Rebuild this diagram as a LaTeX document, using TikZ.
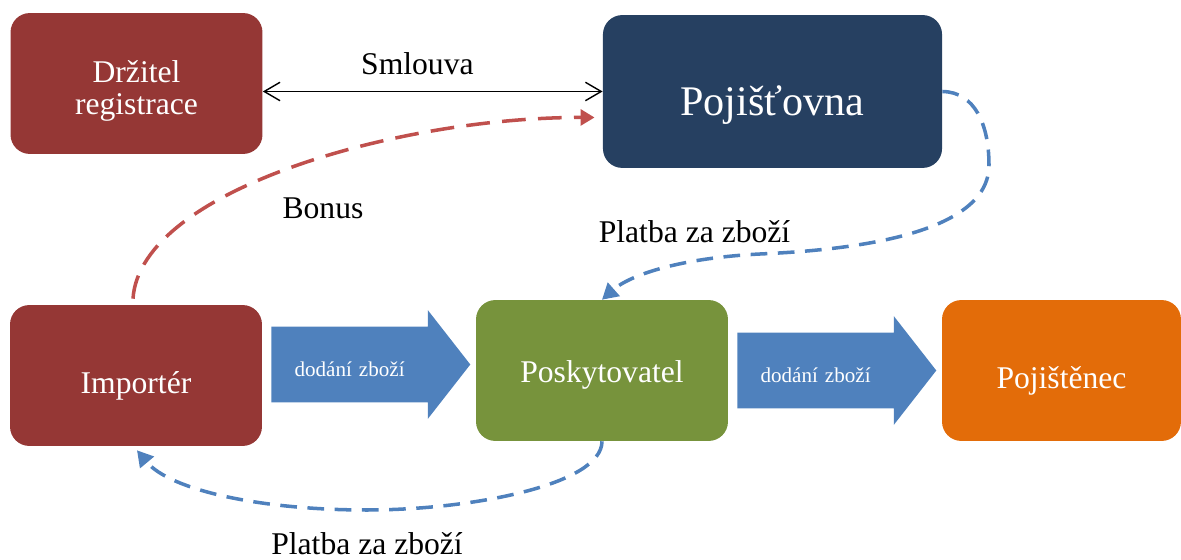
\documentclass[tikz,border=0pt]{standalone}
\usepackage{fontspec}
\setmainfont{Liberation Serif}
\usepackage{tikz}
\usetikzlibrary{arrows.meta,shapes.arrows,positioning,calc}
\definecolor{vinered}{HTML}{953735}
\definecolor{navyblue}{HTML}{264061}
\definecolor{olivegreen}{HTML}{77933C}
\definecolor{deeporange}{HTML}{E36C09}
\definecolor{flowblue}{HTML}{4F81BD}
\definecolor{bonusred}{HTML}{C0504D}
\tikzstyle{party} = [rectangle, rounded corners=11pt, text=white, align=center,
    minimum width=143.4pt, minimum height=80.2pt, inner sep=0pt,
    font=\fontsize{18}{18.2}\selectfont]
\tikzstyle{goods} = [single arrow, fill=flowblue, text=white, anchor=tail,
    font=\fontsize{12}{14}\selectfont, text width=70pt, align=left,
    text height=14.2pt, text depth=0pt,
    inner xsep=13pt, inner ysep=14.25pt, single arrow head extend=9.4pt,
    single arrow tip angle=104, minimum height=112.7pt]
\tikzstyle{payment} = [draw=flowblue, line width=2pt,
    dash pattern=on 9.5pt off 6pt, -{Triangle[length=9pt,width=10pt]}]
\tikzstyle{bonus} = [draw=bonusred, line width=2pt,
    dash pattern=on 13.5pt off 7pt, -{Triangle[length=8pt,width=9pt]}]
\tikzstyle{flowtext} = [font=\fontsize{18}{20}\selectfont, anchor=base]

\begin{document}
\begin{tikzpicture}[x=0.02cm, y=-0.02cm]
  \useasboundingbox (0,0) rectangle (1181,560);
  % Place nodes
  \node [party, fill=vinered, text height=35.8pt, text depth=0pt] (drzitel)
    at (136.5,83.5) {Držitel\\registrace};
  \node [party, fill=navyblue, minimum width=193pt, minimum height=87pt,
    font=\fontsize{24}{28}\selectfont, text height=27pt, text depth=0pt]
    (pojistovna) at (772.5,91.5) {Pojišťovna};
  \node [party, fill=vinered, text height=20pt, text depth=0pt] (importer)
    at (136,375.5) {Importér};
  \node [party, fill=olivegreen, text height=14pt, text depth=0pt] (poskytovatel)
    at (602,370.5) {Poskytovatel};
  \node [party, fill=deeporange, minimum width=136pt, text height=20pt,
    text depth=0pt] (pojistenec) at (1061.5,370.5) {Pojištěnec};
  \node [goods] (dodani1) at (271,364.5) {dodání zboží};
  \node [goods] (dodani2) at (737,370.5) {dodání zboží};

  % Contract
  \draw [{Straight Barb[length=9pt,width=10.5pt]}-{Straight Barb[length=9pt,width=10.5pt]},
    line width=0.8pt] (drzitel.east |- pojistovna.west)
    -- node [pos=0.455, above=5.8pt, font=\fontsize{18}{20}\selectfont] (smlouva) {Smlouva}
    (pojistovna.west);
  % Bonus
  \draw [bonus] ($(importer.north)+(-3,-6)$) .. controls (140,190) and (400,117)
    .. ($(pojistovna.west)+(-8,26)$);
  \node [flowtext] (bonuslbl) at (323,219) {Bonus};
  % Payments
  \draw [payment] (pojistovna.east) .. controls (975,92) and (989,125) .. (989,165)
    .. controls (989,235) and (850,250) .. (760,254)
    .. controls (680,258) and (630,275) .. (poskytovatel.north);
  \node [flowtext] (platba1) at (694.5,243) {Platba za zboží};
  \draw [payment] (poskytovatel.south) .. controls (602,485) and (470,510) .. (367,510)
    .. controls (260,510) and (170,490) .. ($(importer.south)+(1,4)$);
  \node [flowtext] (platba2) at (367,555) {Platba za zboží};
\end{tikzpicture}
\end{document}
